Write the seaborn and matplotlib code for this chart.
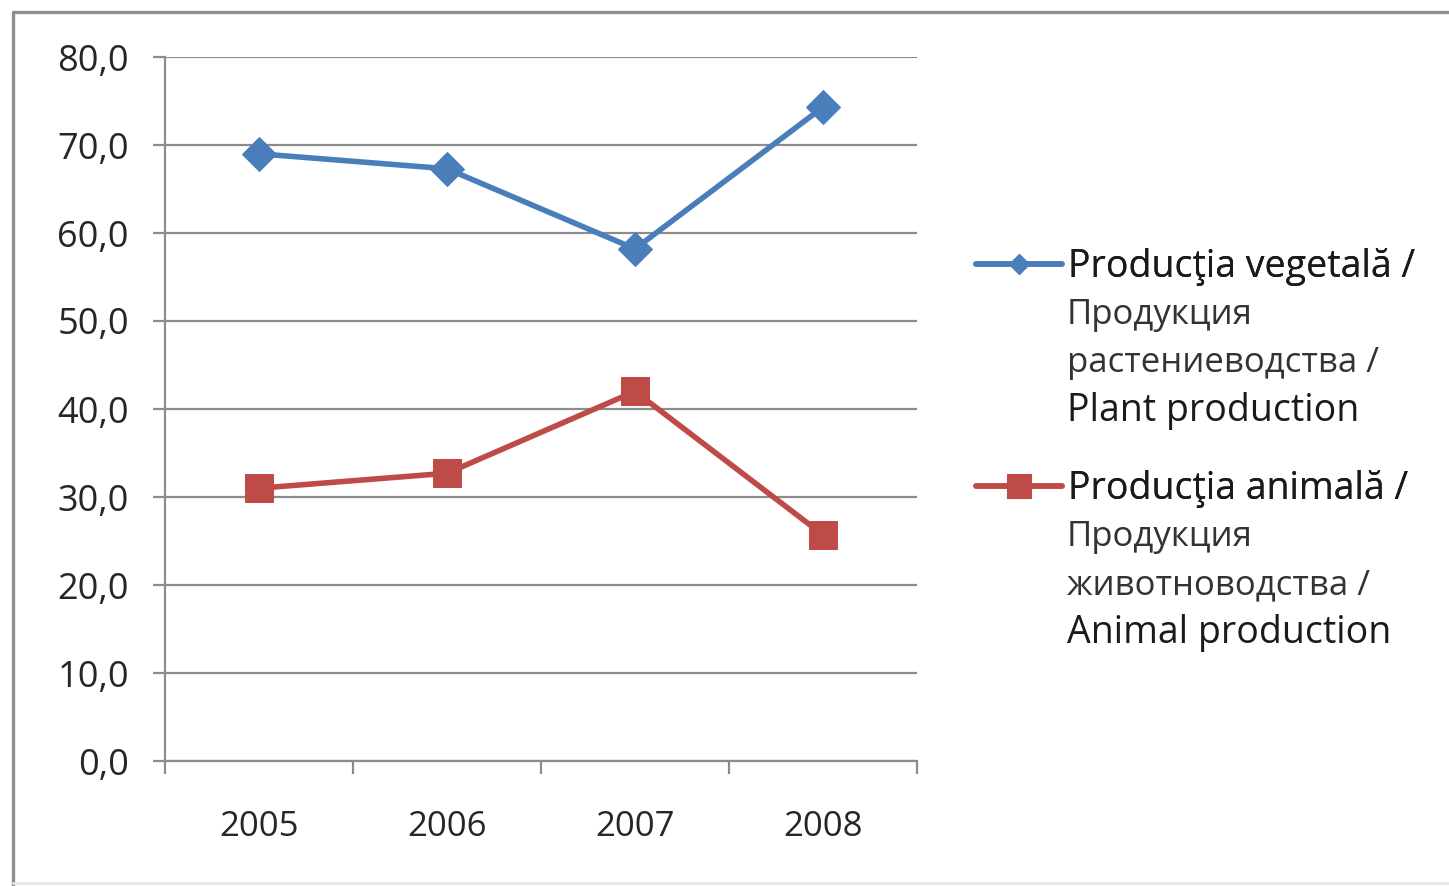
import matplotlib
matplotlib.use("Agg")
import matplotlib.pyplot as plt
import seaborn as sns
import pandas as pd
from matplotlib.lines import Line2D

years = ["2005", "2006", "2007", "2008"]
plant = [69.0, 67.3, 58.2, 74.3]
animal = [31.0, 32.7, 42.0, 25.7]
yticks = [0, 10, 20, 30, 40, 50, 60, 70, 80]
ytick_labels = ["0,0", "10,0", "20,0", "30,0", "40,0", "50,0", "60,0", "70,0", "80,0"]

plant_lines = ["Producţia vegetală /", "Продукция", "растениеводства /", "Plant production"]
animal_lines = ["Producţia animală /", "Продукция", "животноводства /", "Animal production"]

BLUE = "#4A7EBB"
RED = "#BE4B48"
GRID = "#8C8C8C"
TXT = "#1A1A1A"
FONT = ["Open Sans", "DejaVu Sans"]

sns.set_theme(style="white")
plt.rcParams["font.family"] = FONT

W, H = 1449, 886
fig = plt.figure(figsize=(W / 100, H / 100), dpi=100)
fig.patch.set_facecolor("white")

# outer border (left and top strong, bottom faint)
fig.add_artist(Line2D([13 / W, 13 / W], [0, 1 - 12 / H], transform=fig.transFigure,
                      color="#8F8F8F", linewidth=2.4))
fig.add_artist(Line2D([13 / W, 1], [1 - 12 / H, 1 - 12 / H], transform=fig.transFigure,
                      color="#8F8F8F", linewidth=2.4))
fig.add_artist(Line2D([13 / W, 1], [1 - 883 / H, 1 - 883 / H], transform=fig.transFigure,
                      color="#E6E6E6", linewidth=2.0))

ax = fig.add_axes([165 / W, 1 - 761 / H, (917 - 165) / W, (761 - 57) / H])

df = pd.DataFrame({
    "x": list(range(len(years))) * 2,
    "value": plant + animal,
    "series": [plant_lines[0]] * len(years) + [animal_lines[0]] * len(years),
})

sns.lineplot(data=df[df.series == plant_lines[0]], x="x", y="value", ax=ax,
             color=BLUE, linewidth=4.0, marker="D", markersize=17,
             markeredgecolor=BLUE, legend=False)
sns.lineplot(data=df[df.series == animal_lines[0]], x="x", y="value", ax=ax,
             color=RED, linewidth=4.0, marker="s", markersize=20,
             markeredgecolor=RED, legend=False)

ax.set_xlim(-0.5, len(years) - 0.5)
ax.set_ylim(0, 80)
ax.set_yticks(yticks)
ax.set_yticklabels(ytick_labels)
ax.set_xticks([i for i in range(len(years))])
ax.set_xticklabels(years)
ax.set_xticks([i - 0.5 for i in range(len(years) + 1)], minor=True)
ax.set_xlabel("")
ax.set_ylabel("")

ax.grid(axis="y", color=GRID, linewidth=1.6)
ax.grid(axis="x", visible=False)
ax.set_axisbelow(True)
for s in ["top", "right"]:
    ax.spines[s].set_visible(False)
for s in ["left", "bottom"]:
    ax.spines[s].set_color(GRID)
    ax.spines[s].set_linewidth(1.6)

ax.tick_params(axis="y", which="major", left=True, length=9, width=1.6,
               color=GRID, labelsize=26, labelcolor="#262626", pad=17)
ax.tick_params(axis="x", which="major", bottom=False, labelsize=25,
               labelcolor="#262626", pad=29)
ax.tick_params(axis="x", which="minor", bottom=True, length=9, width=1.6,
               color=GRID, direction="out")

plant_handle = ax.get_lines()[0]
animal_handle = ax.get_lines()[1]


def add_entry(handle, lines, y_first, mscale):
    leg = fig.legend([handle], [lines[0]], loc="center left",
                     bbox_to_anchor=(976 / W, 1 - y_first / H),
                     frameon=False, handlelength=2.3, handletextpad=0.15,
                     borderaxespad=0, borderpad=0,
                     prop={"family": FONT, "size": 27},
                     markerscale=mscale)
    for t in leg.get_texts():
        t.set_color(TXT)
    fig.add_artist(leg)
    ys = [y_first + 48, y_first + 96, y_first + 144]
    sizes = [25, 25, 27]
    colors = ["#333333", "#333333", TXT]
    for txt, yy, sz, c in zip(lines[1:], ys, sizes, colors):
        fig.text(1067 / W, 1 - yy / H, txt, ha="left", va="center",
                 fontsize=sz, color=c, family=FONT)


add_entry(plant_handle, plant_lines, 267, 0.6)
add_entry(animal_handle, animal_lines, 489, 0.85)

fig.savefig("out.png", dpi=100, facecolor="white")
